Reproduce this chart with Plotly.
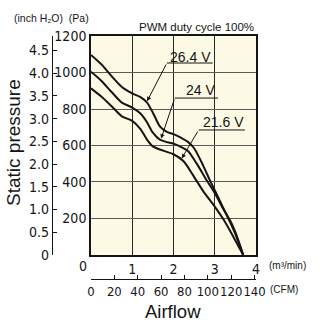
import numpy as np
import plotly.graph_objects as go

# Fan P-Q curves: airflow (m³/min) vs static pressure (Pa) at three supply voltages
flow_264 = [0, 0.25, 0.5, 0.75, 1.0, 1.2, 1.35, 1.5, 1.67, 1.83, 2.0, 2.2, 2.35, 2.5, 2.72, 2.88, 3.0, 3.2, 3.35, 3.5, 3.69]
pa_264 = [1096, 1045, 980, 920, 885, 865, 838, 780, 705, 676, 662, 640, 620, 585, 490, 410, 355, 260, 190, 115, 0]

flow_240 = [0, 0.25, 0.5, 0.75, 1.0, 1.2, 1.35, 1.5, 1.67, 1.85, 2.0, 2.2, 2.35, 2.56, 2.8, 3.0, 3.2, 3.37, 3.5, 3.69]
pa_240 = [1004, 955, 893, 835, 808, 775, 730, 670, 632, 618, 610, 590, 570, 502, 411, 340, 255, 190, 125, 0]

flow_216 = [0, 0.25, 0.5, 0.75, 1.0, 1.2, 1.35, 1.5, 1.75, 2.0, 2.24, 2.48, 2.72, 3.0, 3.24, 3.45, 3.69]
pa_216 = [913, 868, 815, 760, 735, 690, 635, 595, 572, 552, 515, 435, 350, 265, 185, 100, 0]

series = [
    ("26.4 V", flow_264, pa_264),
    ("24 V", flow_240, pa_240),
    ("21.6 V", flow_216, pa_216),
]

# Axis ticks
pa_ticks = [200, 400, 600, 800, 1000, 1200]
inch_ticks = [0, 0.5, 1.0, 1.5, 2.0, 2.5, 3.0, 3.5, 4.0, 4.5]
inch_text = ["0", "0.5", "1.0", "1.5", "2.0", "2.5", "3.0", "3.5", "4.0", "4.5"]
m3_ticks = [1, 2, 3, 4]
cfm_ticks = [0, 20, 40, 60, 80, 100, 120, 140]

PA_PER_INCH = 249.089
CFM_PER_M3 = 35.3147
X_MAX = 4.0
Y_MAX = 1200

# Curve label placement: (text x, text y, underline x0, underline x1, underline y, arrow tip x)
label_pos = {
    "26.4 V": (2.42, 1085, 1.84, 2.95, 1052, 1.36),
    "24 V": (2.66, 904, 2.03, 3.08, 860, 1.70),
    "21.6 V": (3.21, 729, 2.61, 3.73, 685, 2.20),
}

INK = "#151515"
NARROW = "Liberation Sans Narrow, DejaVu Sans Condensed, sans-serif"
SANS = "Liberation Sans, Arial, sans-serif"

fig = go.Figure()

for name, fx, py in series:
    fig.add_trace(go.Scatter(
        x=fx, y=py, mode="lines", name=name,
        line=dict(color=INK, width=2, shape="spline", smoothing=0.8),
        hoverinfo="skip", showlegend=False,
    ))

# invisible traces so the secondary unit axes are rendered
fig.add_trace(go.Scatter(x=[0, X_MAX * CFM_PER_M3], y=[0, 0], xaxis="x2", yaxis="y",
                         mode="markers", marker=dict(opacity=0), hoverinfo="skip", showlegend=False))
fig.add_trace(go.Scatter(x=[0, 0], y=[0, Y_MAX / PA_PER_INCH], xaxis="x", yaxis="y2",
                         mode="markers", marker=dict(opacity=0), hoverinfo="skip", showlegend=False))

annotations = []
shapes = []
for name, fx, py in series:
    tx, ty, ux0, ux1, uy, tipx = label_pos[name]
    tipy = float(np.interp(tipx, fx, py)) + 8
    annotations.append(dict(x=tx, y=ty, xref="x", yref="y", text=name, showarrow=False,
                            font=dict(family=SANS, size=14, color=INK)))
    shapes.append(dict(type="line", xref="x", yref="y", x0=ux0, x1=ux1, y0=uy, y1=uy,
                       line=dict(color=INK, width=1)))
    annotations.append(dict(x=tipx, y=tipy, ax=ux0, ay=uy, xref="x", yref="y",
                            axref="x", ayref="y", text="", showarrow=True,
                            arrowhead=2, arrowsize=0.9, arrowwidth=1, arrowcolor=INK))

annotations += [
    dict(x=-0.196, y=1.074, xref="paper", yref="paper", xanchor="left", yanchor="middle",
         text="(inch H₂O)  (Pa)", showarrow=False,
         font=dict(family=SANS, size=10.5, color=INK)),
    dict(x=1.0, y=1.037, xref="paper", yref="paper", xanchor="right", yanchor="middle",
         text="PWM duty cycle 100%", showarrow=False,
         font=dict(family=SANS, size=11.5, color=INK)),
    dict(x=-0.186, y=0.56, xref="paper", yref="paper", xanchor="center", yanchor="middle",
         text="Static pressure", textangle=-90, showarrow=False,
         font=dict(family=SANS, size=19, color=INK)),
    dict(x=0.593, y=-0.134, xref="paper", yref="paper", xanchor="center", yanchor="middle",
         text="Airflow", showarrow=False,
         font=dict(family=SANS, size=18.5, color=INK)),
    dict(x=1.054, y=0.0535, xref="paper", yref="paper", xanchor="left", yanchor="middle",
         text="(m³/min)", showarrow=False,
         font=dict(family=SANS, size=10, color=INK)),
    dict(x=1.059, y=-0.045, xref="paper", yref="paper", xanchor="left", yanchor="middle",
         text="(CFM)", showarrow=False,
         font=dict(family=SANS, size=10, color=INK)),
    dict(x=0.152, y=0.0535, xref="paper", yref="paper", xanchor="center", yanchor="middle",
         text="0", showarrow=False,
         font=dict(family=NARROW, size=14, color=INK)),
]

fig.update_layout(
    width=324, height=326,
    margin=dict(l=52, r=68, t=36, b=47),
    paper_bgcolor="white",
    plot_bgcolor="#FCF9E4",
    showlegend=False,
    xaxis=dict(
        domain=[0.191, 1], range=[0, X_MAX], tickvals=m3_ticks, ticks="",
        showline=True, mirror=True, linecolor=INK, linewidth=1.5,
        showgrid=True, gridcolor="#2a2a2a", gridwidth=1.3, zeroline=False,
        tickfont=dict(family=NARROW, size=14, color=INK), fixedrange=True,
    ),
    xaxis2=dict(
        overlaying="x", anchor="free", position=0, side="bottom",
        range=[0, X_MAX * CFM_PER_M3], tickvals=cfm_ticks, ticks="inside", ticklen=4,
        tickcolor=INK, showline=True, linecolor=INK, linewidth=1.2, tickangle=0,
        showgrid=False, zeroline=False,
        tickfont=dict(family=NARROW, size=13, color=INK), fixedrange=True,
    ),
    yaxis=dict(
        domain=[0.0988, 1], range=[0, Y_MAX], tickvals=pa_ticks, ticks="",
        showline=True, mirror=True, linecolor=INK, linewidth=1.5,
        showgrid=True, gridcolor="#5a5a5a", gridwidth=1.3, zeroline=False,
        tickfont=dict(family=NARROW, size=14, color=INK), fixedrange=True,
    ),
    yaxis2=dict(
        overlaying="y", anchor="free", position=0, side="left",
        range=[0, Y_MAX / PA_PER_INCH], tickvals=inch_ticks, ticktext=inch_text,
        ticks="inside", ticklen=4, tickcolor=INK,
        showline=True, linecolor=INK, linewidth=1.2, showgrid=False, zeroline=False,
        tickfont=dict(family=NARROW, size=14, color=INK), fixedrange=True,
    ),
    annotations=annotations,
    shapes=shapes,
)

fig.write_html("out.html")
